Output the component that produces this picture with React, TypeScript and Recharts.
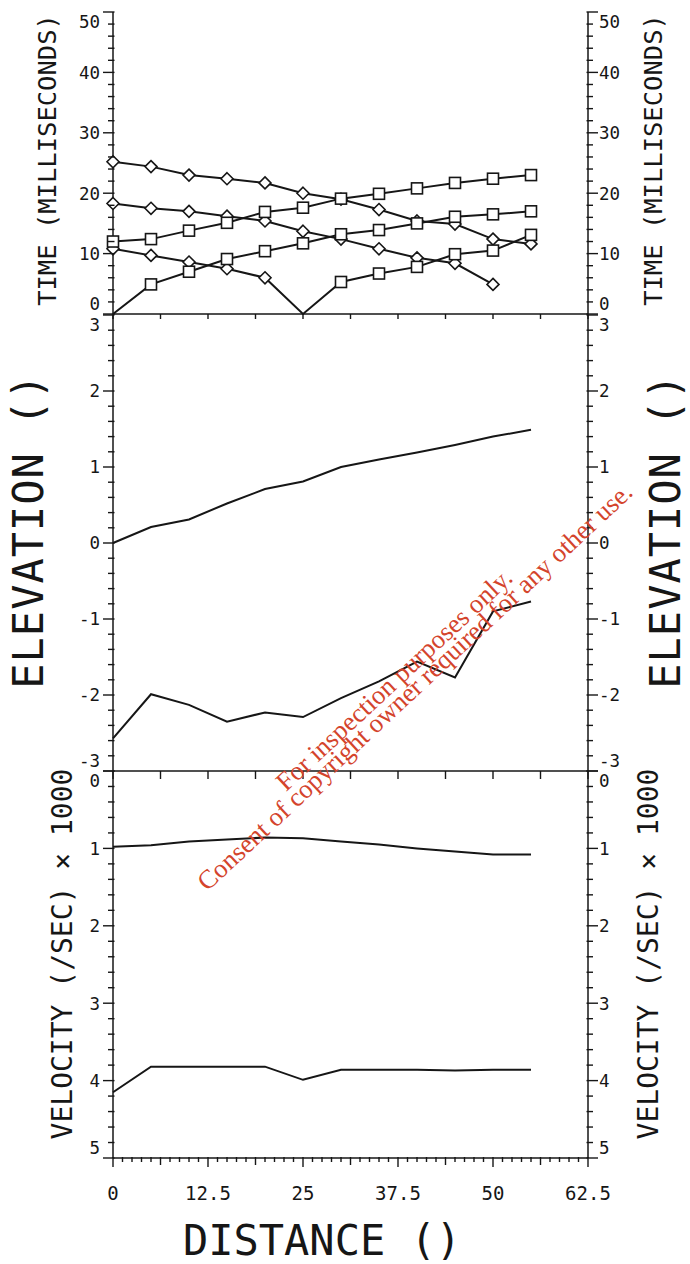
import React from 'react';
import { LineChart, Line, XAxis, YAxis } from 'recharts';

const W = 690;
const H = 1264;
const PLOT_L = 113;
const PLOT_R = 588;
const P1 = { top: 12, bottom: 314 };
const P2 = { top: 315, bottom: 771 };
const P3 = { top: 771, bottom: 1158 };
const XH = 30; // x axis band height
const FONT = '"DejaVu Sans Mono", monospace';
const INK = '#161616';

// shared x positions (distance)
const distance = [0, 5, 10, 15, 20, 25, 30, 35, 40, 45, 50, 55];

// travel times, milliseconds
const diamondsA = [25.2, 24.4, 23.0, 22.4, 21.7, 20.0, 19.0, 17.3, 15.4, 14.9, 12.4, 11.6];
const diamondsB = [18.3, 17.5, 17.0, 16.2, 15.4, 13.7, 12.4, 10.8, 9.3, 8.4, 4.9, null];
const splitShot = [10.8, 9.7, 8.6, 7.5, 6.0, 0, 5.3, 6.7, 7.8, 9.9, 10.5, 13.1];
const squaresA = [12.0, 12.4, 13.8, 15.1, 16.9, 17.6, 19.1, 19.9, 20.8, 21.7, 22.4, 23.0];
const squaresB = [0, 4.9, 7.0, 9.1, 10.4, 11.7, 13.2, 13.9, 15.0, 16.1, 16.5, 17.0];

// marker kind per point: d = diamond, s = square, '' = none
const splitMarks = ['d', 'd', 'd', 'd', 'd', '', 's', 's', 's', 's', 's', 's'];
const squaresBMarks = ['', 's', 's', 's', 's', 's', 's', 's', 's', 's', 's', 's'];
const allDiamonds = distance.map(() => 'd');
const allSquares = distance.map(() => 's');

// elevation
const surface = [0, 0.21, 0.31, 0.52, 0.71, 0.81, 1.0, 1.1, 1.19, 1.29, 1.4, 1.49];
const refractor = [-2.57, -1.99, -2.13, -2.35, -2.23, -2.29, -2.04, -1.82, -1.56, -1.77, -0.9, -0.77];

// velocity (/sec x 1000)
const velUpper = [0.98, 0.96, 0.91, 0.885, 0.86, 0.87, 0.91, 0.95, 1.0, 1.04, 1.08, 1.08];
const velLower = [4.15, 3.82, 3.82, 3.82, 3.82, 3.99, 3.86, 3.86, 3.86, 3.87, 3.86, 3.86];

// tick labels
const timeTicks = [0, 10, 20, 30, 40, 50];
const elevTicks = [-3, -2, -1, 0, 1, 2, 3];
const velTicks = [0, 1, 2, 3, 4, 5];
const distTicks = [0, 12.5, 25, 37.5, 50, 62.5];
const panelXTicks = [0, 6.25, 12.5, 18.75, 25, 31.25, 37.5, 43.75, 50, 56.25, 62.5];

const travelRows = distance.map((x, i) => ({
  x, dA: diamondsA[i], dB: diamondsB[i], sp: splitShot[i], sA: squaresA[i], sB: squaresB[i],
}));
const elevRows = distance.map((x, i) => ({ x, top: surface[i], bed: refractor[i] }));
const velRows = distance.map((x, i) => ({ x, v1: velUpper[i], v2: velLower[i] }));

const subdivide = (majors: number[], n: number) => {
  const out: number[] = [];
  for (let i = 0; i < majors.length - 1; i++) {
    const step = (majors[i + 1] - majors[i]) / n;
    for (let k = 0; k < n; k++) out.push(Math.round((majors[i] + k * step) * 10000) / 10000);
  }
  out.push(majors[majors.length - 1]);
  return out;
};

const isIn = (list: number[], v: number) => list.some((m) => Math.abs(m - v) < 1e-6);

const markDot = (kinds: string[]) => (p: any) => {
  const { cx, cy, index } = p;
  const k = kinds[index];
  if (cx == null || cy == null || !k) return <g key={`n-${index}`} />;
  if (k === 'd') {
    const r = 6;
    return (
      <polygon key={`d-${index}`} points={`${cx},${cy - r} ${cx + r},${cy} ${cx},${cy + r} ${cx - r},${cy}`}
        fill="#fff" stroke={INK} strokeWidth={1.6} />
    );
  }
  return <rect key={`s-${index}`} x={cx - 5.5} y={cy - 5.5} width={11} height={11} fill="#fff" stroke={INK} strokeWidth={1.6} />;
};

// draws the tick on both the left and the right frame
const yTick = (majors: number[], top: number, bottom: number) => (props: any) => {
  const { y, payload } = props;
  const v = payload.value;
  const major = isIn(majors, v);
  const len = major ? 10 : 5;
  let ly = y;
  if (Math.abs(y - top) < 1.5) ly += 10;
  else if (Math.abs(y - bottom) < 1.5) ly -= 10;
  return (
    <g>
      <line x1={PLOT_L + 1.5} x2={PLOT_L - len} y1={y} y2={y} stroke={INK} strokeWidth={1.4} />
      <line x1={PLOT_R - 1.5} x2={PLOT_R + len} y1={y} y2={y} stroke={INK} strokeWidth={1.4} />
      {major && (
        <text x={PLOT_L - 13} y={ly} dy="0.36em" textAnchor="end" fontFamily={FONT} fontSize={17.5} fill={INK}>{String(v)}</text>
      )}
      {major && (
        <text x={PLOT_R + 11} y={ly} dy="0.36em" textAnchor="start" fontFamily={FONT} fontSize={17.5} fill={INK}>{String(v)}</text>
      )}
    </g>
  );
};

const panelXTick = (base: number, len: number) => (props: any) => {
  const { x } = props;
  return <line x1={x} x2={x} y1={base} y2={base + len} stroke={INK} strokeWidth={1.4} />;
};

const distTick = (props: any) => {
  const { x, payload } = props;
  const v = payload.value;
  const major = isIn(distTicks, v);
  const half = isIn(panelXTicks, v);
  const len = major ? 9 : half ? 7 : 4;
  return (
    <g>
      <line x1={x} x2={x} y1={P3.bottom - 1} y2={P3.bottom + len} stroke={INK} strokeWidth={1.4} />
      {major && (
        <text x={x} y={P3.bottom + 42} textAnchor="middle" fontFamily={FONT} fontSize={19} fill={INK}>{String(v)}</text>
      )}
    </g>
  );
};

const chartStyle: React.CSSProperties = { position: 'absolute', left: 0, top: 0 };
const margin = (p: { top: number; bottom: number }) => ({ top: p.top, bottom: H - p.bottom - XH, left: 53, right: 42 });
const lineProps = { stroke: INK, strokeWidth: 2, isAnimationActive: false, type: 'linear' as const };

const timeAll = subdivide(timeTicks, 5);
const elevAll = subdivide(elevTicks, 5);
const velAll = subdivide(velTicks, 5);
const distAll = subdivide(distTicks, 10);

export default function App() {
  return (
    <div style={{ position: 'absolute', left: 0, top: 0, width: W, height: H, background: '#fff' }}>
      {/* travel times */}
      <LineChart width={W} height={H} data={travelRows} margin={margin(P1)} style={chartStyle}>
        <XAxis dataKey="x" type="number" domain={[0, 62.5]} ticks={panelXTicks} interval={0} height={XH}
          tick={panelXTick(P1.bottom, 5)} tickLine={false} stroke={INK} strokeWidth={1.5} />
        <YAxis yAxisId="l" orientation="left" width={60} type="number" domain={[0, 50]} ticks={timeAll} interval={0}
          tick={yTick(timeTicks, P1.top, P1.bottom)} tickLine={false} stroke={INK} strokeWidth={1.5} />
        <YAxis yAxisId="r" orientation="right" width={60} type="number" domain={[0, 50]}
          tick={false} tickLine={false} stroke={INK} strokeWidth={1.5} />
        <Line yAxisId="l" dataKey="dA" {...lineProps} dot={markDot(allDiamonds)} />
        <Line yAxisId="l" dataKey="dB" {...lineProps} dot={markDot(allDiamonds)} />
        <Line yAxisId="l" dataKey="sp" {...lineProps} dot={markDot(splitMarks)} />
        <Line yAxisId="l" dataKey="sA" {...lineProps} dot={markDot(allSquares)} />
        <Line yAxisId="l" dataKey="sB" {...lineProps} dot={markDot(squaresBMarks)} />
      </LineChart>

      {/* elevation */}
      <LineChart width={W} height={H} data={elevRows} margin={margin(P2)} style={chartStyle}>
        <XAxis dataKey="x" type="number" domain={[0, 62.5]} ticks={panelXTicks} interval={0} height={XH}
          tick={panelXTick(P2.bottom, 8)} tickLine={false} stroke={INK} strokeWidth={1.5} />
        <YAxis yAxisId="l" orientation="left" width={60} type="number" domain={[-3, 3]} ticks={elevAll} interval={0}
          tick={yTick(elevTicks, P2.top, P2.bottom)} tickLine={false} stroke={INK} strokeWidth={1.5} />
        <YAxis yAxisId="r" orientation="right" width={60} type="number" domain={[-3, 3]}
          tick={false} tickLine={false} stroke={INK} strokeWidth={1.5} />
        <Line yAxisId="l" dataKey="top" {...lineProps} dot={false} />
        <Line yAxisId="l" dataKey="bed" {...lineProps} dot={false} />
      </LineChart>

      {/* velocity */}
      <LineChart width={W} height={H} data={velRows} margin={margin(P3)} style={chartStyle}>
        <XAxis dataKey="x" type="number" domain={[0, 62.5]} ticks={distAll} interval={0} height={XH}
          tick={distTick} tickLine={false} stroke={INK} strokeWidth={1.5} />
        <YAxis yAxisId="l" orientation="left" width={60} type="number" domain={[0, 5]} reversed ticks={velAll} interval={0}
          tick={yTick(velTicks, P3.top, P3.bottom)} tickLine={false} stroke={INK} strokeWidth={1.5} />
        <YAxis yAxisId="r" orientation="right" width={60} type="number" domain={[0, 5]} reversed
          tick={false} tickLine={false} stroke={INK} strokeWidth={1.5} />
        <Line yAxisId="l" dataKey="v1" {...lineProps} dot={false} />
        <Line yAxisId="l" dataKey="v2" {...lineProps} dot={false} />
      </LineChart>

      {/* axis titles and stamp */}
      <svg width={W} height={H} style={{ position: 'absolute', left: 0, top: 0, pointerEvents: 'none' }}>
        <g fontFamily={FONT} fill={INK} textAnchor="middle">
          <text transform="rotate(-90 56 160)" x={56} y={160} fontSize={25.5}>TIME (MILLISECONDS)</text>
          <text transform="rotate(-90 662 160)" x={662} y={160} fontSize={25.5}>TIME (MILLISECONDS)</text>
          <text transform="rotate(-90 43 531)" x={43} y={531} fontSize={42} letterSpacing={1}>ELEVATION ()</text>
          <text transform="rotate(-90 680 531)" x={680} y={531} fontSize={42} letterSpacing={1}>ELEVATION ()</text>
          <text transform="rotate(-90 72 954)" x={72} y={954} fontSize={28}>VELOCITY (/SEC) × 1000</text>
          <text transform="rotate(-90 658 954)" x={658} y={954} fontSize={28}>VELOCITY (/SEC) × 1000</text>
          <text x={322} y={1255} fontSize={42}>DISTANCE ()</text>
        </g>
        <g fontFamily='"Liberation Serif", serif' fontSize={26.5} fill="#d4442c" textAnchor="middle">
          <text transform="rotate(-43 400 686)" x={400} y={686}>For inspection purposes only.</text>
          <text transform="rotate(-43 418 690)" x={418} y={690} dy={4}>Consent of copyright owner required for any other use.</text>
        </g>
      </svg>
    </div>
  );
}
